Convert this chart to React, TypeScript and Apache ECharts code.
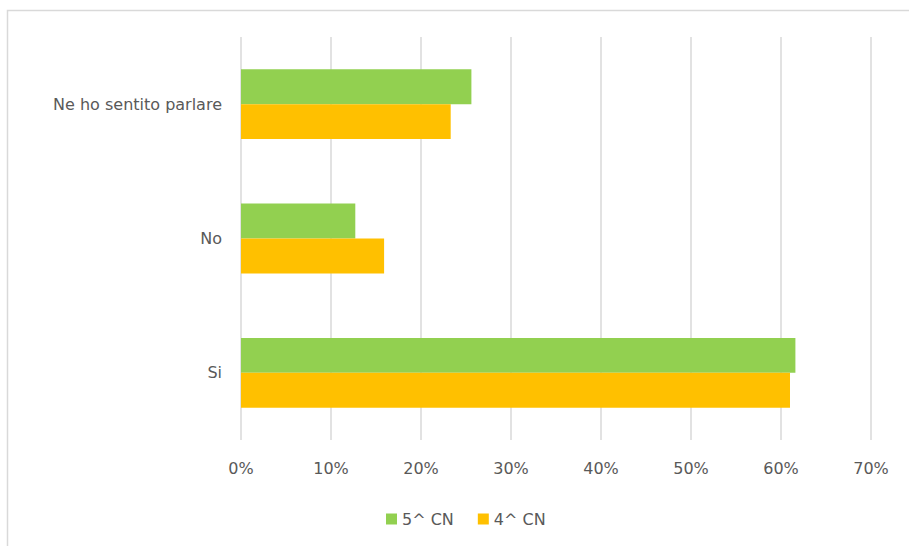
import React, { useEffect, useRef } from "react";
import * as echarts from "echarts";

const categories = ["Si", "No", "Ne ho sentito parlare"];
const seriesNames = ["5^ CN", "4^ CN"];
const values5 = [61.6, 12.7, 25.6];
const values4 = [61.0, 15.9, 23.3];
const colors = ["#92d050", "#ffc000"];

export default function App() {
  const ref = useRef<HTMLDivElement>(null);
  useEffect(() => {
    if (!ref.current) return;
    const chart = echarts.init(ref.current, undefined, { renderer: "svg" });
    const font = "DejaVu Sans";
    chart.setOption({
      animation: false,
      backgroundColor: "#ffffff",
      graphic: [
        {
          type: "rect",
          shape: { x: 7.5, y: 10.5, width: 960, height: 600 },
          style: { fill: "none", stroke: "#d9d9d9", lineWidth: 1.5 },
          silent: true,
        },
      ],
      grid: { left: 241, right: 38, top: 37, bottom: 106 },
      legend: {
        data: seriesNames,
        left: 381,
        top: 506,
        itemWidth: 11,
        itemHeight: 11,
        itemGap: 24,
        icon: "rect",
        textStyle: { color: "#595959", fontSize: 16, fontFamily: font },
      },
      xAxis: {
        type: "value",
        min: 0,
        max: 70,
        interval: 10,
        axisLine: { show: false },
        axisTick: { show: false },
        splitLine: { show: true, lineStyle: { color: "#d9d9d9", width: 1.5 } },
        axisLabel: {
          formatter: (v: number) => `${v}%`,
          color: "#595959",
          fontSize: 16,
          fontFamily: font,
          margin: 20,
        },
      },
      yAxis: {
        type: "category",
        data: categories,
        axisLine: { show: false },
        axisTick: { show: false },
        axisLabel: { color: "#595959", fontSize: 16, fontFamily: font, margin: 19 },
      },
      series: [
        {
          name: seriesNames[0],
          type: "bar",
          data: values5,
          itemStyle: { color: colors[0] },
          barGap: "0%",
          barCategoryGap: "48%",
        },
        {
          name: seriesNames[1],
          type: "bar",
          data: values4,
          itemStyle: { color: colors[1] },
          barGap: "0%",
          barCategoryGap: "48%",
        },
      ],
    });
    return () => chart.dispose();
  }, []);
  return (
    <div
      ref={ref}
      style={{ position: "absolute", left: 0, top: 0, width: 909, height: 546 }}
    />
  );
}
